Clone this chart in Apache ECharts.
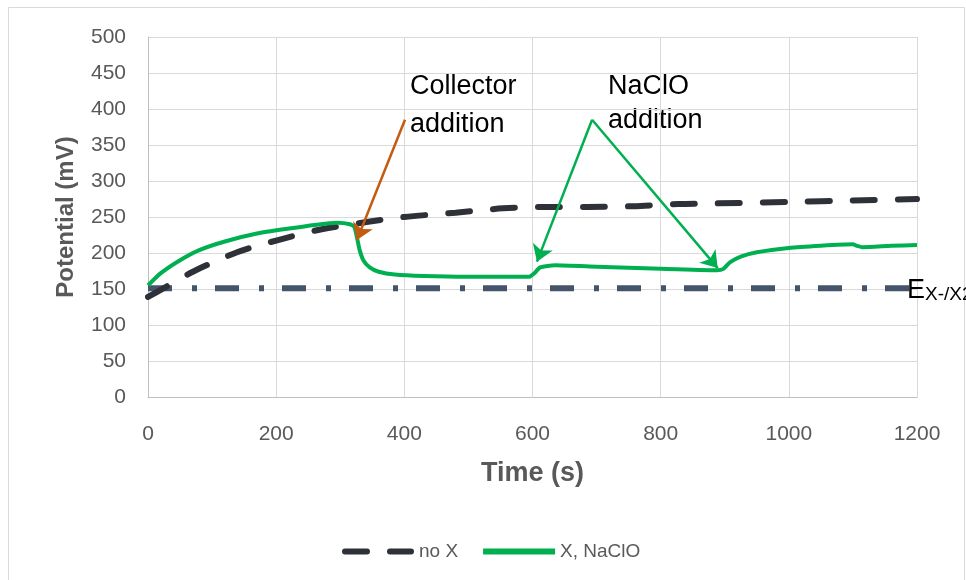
<!DOCTYPE html>
<html>
<head>
<meta charset="utf-8">
<script src="https://cdn.jsdelivr.net/npm/echarts@6/dist/echarts.min.js"></script>
<style>html,body{margin:0;padding:0;background:#fff;}#c{width:966px;height:580px;}</style>
</head>
<body>
<div id="c"></div>
<script>
// Data
var xTicks = [0, 200, 400, 600, 800, 1000, 1200];
var yTicks = [0, 50, 100, 150, 200, 250, 300, 350, 400, 450, 500];
var noX = [[0,139],[24,151],[70,174],[139,201],[203,218],[271,233],[341,243],[400,250],[480,256],[554,262],[616,264],[685,264],[757,265],[827,268],[889,269],[1000,271],[1100,273],[1200,275]];
var xNaClO = [[0,155],[20,172],[50,190],[80,204],[120,216],[170,227],[220,234],[260,239],[295,242],[315,240],[322,236],[326,222],[330,205],[336,190],[346,180],[360,174],[385,170],[430,168],[500,167],[595,167],[603,172],[612,180],[635,183],[700,181],[800,178],[888,176],[898,178],[908,187],[925,195],[950,201],[1000,207],[1050,210],[1100,212],[1106,210],[1115,208],[1160,210],[1200,211]];
var eRef = [[0,151],[1200,151]];
var collectorArrow = [[401,385],[326,218]];
var naclArrow1 = [[693,385],[607,188]];
var naclArrow2 = [[693,385],[889,179]];

var FONT = 'Liberation Sans, Arial, sans-serif';
var chart = echarts.init(document.getElementById('c'), null, {renderer:'canvas'});
function arrowLine(pts, color){
  return [{coord: pts[0], lineStyle:{color:color}, itemStyle:{color:color}}, {coord: pts[1], lineStyle:{color:color}, itemStyle:{color:color}}];
}
chart.setOption({
  backgroundColor:'#fff',
  animation:false,
  textStyle:{fontFamily:FONT},
  grid:{left:148, right:49, top:37, bottom:183, containLabel:false},
  xAxis:{
    type:'value', min:xTicks[0], max:xTicks[xTicks.length-1], interval:200,
    name:'Time (s)', nameLocation:'middle', nameGap:63,
    nameTextStyle:{fontFamily:FONT, fontSize:27, fontWeight:'bold', color:'#595959'},
    axisLine:{show:true, lineStyle:{color:'#bfbfbf', width:1}},
    axisTick:{show:false},
    axisLabel:{fontSize:21, color:'#595959', margin:27, fontFamily:FONT, formatter:function(v){return String(v);}},
    splitLine:{show:true, lineStyle:{color:'#d9d9d9', width:1}}
  },
  yAxis:{
    type:'value', min:yTicks[0], max:yTicks[yTicks.length-1], interval:50,
    name:'Potential (mV)', nameLocation:'middle', nameGap:70, nameRotate:90,
    nameTextStyle:{fontFamily:FONT, fontSize:24, fontWeight:'bold', color:'#595959'},
    axisLine:{show:true, lineStyle:{color:'#bfbfbf', width:1}},
    axisTick:{show:false},
    axisLabel:{fontSize:21, color:'#595959', margin:22, fontFamily:FONT},
    splitLine:{show:true, lineStyle:{color:'#d9d9d9', width:1}}
  },
  legend:{
    left:337, top:537, itemWidth:72, itemHeight:6, itemGap:25,
    data:[
      {name:'no X', icon:'path://M3,0h22a3,3 0 0 1 0,6h-22a3,3 0 0 1 0,-6z M48,0h21a3,3 0 0 1 0,6h-21a3,3 0 0 1 0,-6z', itemStyle:{color:'#2e3138'}},
      {name:'X, NaClO', icon:'rect', itemStyle:{color:'#00b050'}}
    ],
    textStyle:{fontSize:19, color:'#595959', fontFamily:FONT}
  },
  graphic:[
    {type:'rect', silent:true, shape:{x:8.5, y:7.5, width:956, height:590}, style:{fill:null, stroke:'#d9d9d9', lineWidth:1}},
    {type:'text', left:410, top:68, style:{text:'Collector\naddition', font:'27px '+FONT, fill:'#000', lineHeight:38, align:'left'}},
    {type:'text', left:608, top:70, style:{text:'NaClO\naddition', font:'27px '+FONT, fill:'#000', lineHeight:34, align:'left'}}
  ],
  series:[
    {
      name:'E', type:'line', data:eRef, symbol:'none', silent:true, z:1,
      lineStyle:{color:'#44546a', width:6, type:[24,20,5,18], cap:'butt'},
      markPoint:{
        symbol:'circle', symbolSize:0, silent:true,
        data:[{coord:[1200,151]}],
        label:{show:true, position:'inside', offset:[-10,2], align:'left', verticalAlign:'middle',
          formatter:'{a|E}{b|X-/X2}',
          rich:{a:{fontSize:27, color:'#000', fontFamily:FONT}, b:{fontSize:19, color:'#000', fontFamily:FONT, padding:[8,0,0,0]}}}
      }
    },
    {
      name:'no X', type:'line', data:noX, symbol:'none', smooth:0.3, z:3,
      itemStyle:{color:'#2e3138'},
      lineStyle:{color:'#2e3138', width:6, type:[22,23], cap:'round'}
    },
    {
      name:'X, NaClO', type:'line', data:xNaClO, symbol:'none', smooth:0.2, z:4,
      itemStyle:{color:'#00b050'},
      lineStyle:{color:'#00b050', width:4, join:'round'},
      markLine:{
        silent:true, symbol:['none','arrow'], symbolSize:16,
        label:{show:false},
        lineStyle:{type:'solid', width:2.5},
        data:[
          arrowLine(collectorArrow,'#c55a11'),
          arrowLine(naclArrow1,'#00b050'),
          arrowLine(naclArrow2,'#00b050')
        ]
      }
    }
  ]
});
</script>
</body>
</html>
